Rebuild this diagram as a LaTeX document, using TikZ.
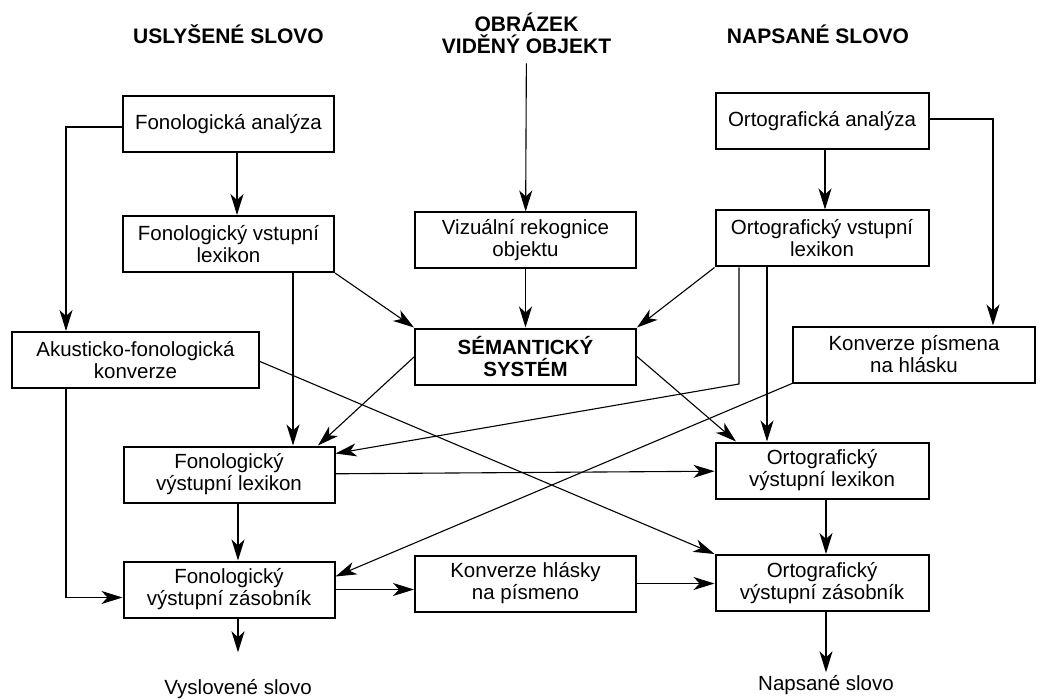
\documentclass[tikz,border=0pt]{standalone}
\usepackage{fontspec}
\setmainfont{Liberation Sans}
\usetikzlibrary{arrows.meta}
\tikzstyle{stage} = [rectangle, draw=black, line width=2pt, minimum width=211pt, minimum height=56pt, text centered, align=center, font=\fontsize{20.5pt}{22pt}\selectfont]
\tikzstyle{source} = [align=center, font=\bfseries\fontsize{21pt}{22pt}\selectfont]
\tikzstyle{output} = [font=\fontsize{20.5pt}{22pt}\selectfont]
\tikzstyle{arrow} = [line width=1.1pt, -{Stealth[length=21pt, width=13pt, inset=6pt]}]

\begin{document}
\begin{tikzpicture}
[x=1pt, y=-1pt, node distance=116pt]
\useasboundingbox (0,0) rectangle (1040,700);

% left column: heard word
\node (fonan) [stage] at (228.5,124.5) {Fonologická analýza};
\node (fonvst) [stage, below of=fonan, yshift=-3.5pt] {Fonologický vstupní\\lexikon};
\node (akust) [stage, below of=fonvst, xshift=-93pt, minimum width=247pt] {Akusticko-fonologická\\konverze};
\node (fonvyl) [stage, below of=akust, xshift=93.5pt, yshift=1.5pt] {Fonologický\\výstupní lexikon};
\node (fonvz) [stage, below of=fonvyl, yshift=1pt] {Fonologický\\výstupní zásobník};
\node (vysl) [output, below of=fonvz, xshift=9pt, yshift=16pt] {Vyslovené slovo};

% middle column: seen object
\node (vizual) [stage, right of=fonvst, xshift=181pt, yshift=3.5pt, minimum width=221pt] {Vizuální rekognice\\objektu};
\node (sem) [stage, below of=vizual, minimum width=221pt, font=\fontsize{20.5pt}{22pt}\selectfont\bfseries] {SÉMANTICKÝ\\SYSTÉM};
\node (konvhl) [stage, right of=fonvz, xshift=180.5pt, yshift=6pt, minimum width=221pt] {Konverze hlásky\\na písmeno};

% right column: written word
\node (ortan) [stage, right of=fonan, xshift=477.5pt, yshift=3.5pt, minimum width=213pt] {Ortografická analýza};
\node (ortvst) [stage, below of=ortan, yshift=-1.5pt, minimum width=213pt] {Ortografický vstupní\\lexikon};
\node (konvpis) [stage, below of=ortvst, xshift=92pt, minimum width=242pt] {Konverze písmena\\na hlásku};
\node (ortvyl) [stage, below of=konvpis, xshift=-92pt, minimum width=213pt] {Ortografický\\výstupní lexikon};
\node (ortvz) [stage, below of=ortvyl, yshift=3.5pt, minimum width=213pt] {Ortografický\\výstupní zásobník};
\node (naps) [output, below of=ortvz, xshift=4pt, yshift=13.5pt] {Napsané slovo};

% headings
\node (usl) [source, above of=fonan, yshift=-25.5pt] {USLYŠENÉ SLOVO};
\node (obr) [source, above of=vizual, xshift=1pt, yshift=91pt] {OBRÁZEK\\VIDĚNÝ OBJEKT};
\node (naptitle) [source, above of=ortan, xshift=-4pt, yshift=-29pt] {NAPSANÉ SLOVO};

\draw [arrow] ([xshift=8.5pt]fonan.south) -- ([xshift=8.5pt]fonvst.north);
\draw [arrow] ([yshift=-2.5pt]fonan.west) -| ([xshift=-69.5pt]akust.north);
\draw [arrow] ([xshift=64.5pt]fonvst.south) -- ([xshift=64pt]fonvyl.north);
\draw [arrow] (fonvst.south east) -- (sem.north west);
\draw [arrow, shorten <=6pt] (obr) -- (vizual);
\draw [arrow] (vizual) -- (sem);
\draw [arrow] ([xshift=3pt]ortan.south) -- ([xshift=3pt]ortvst.north);
\draw [arrow] ([yshift=2pt]ortan.east) -| ([xshift=79pt]konvpis.north);
\draw [arrow] (ortvst.south west) -- (sem.north east);
\draw [arrow] ([xshift=-83pt]ortvst.south) -- ++(0,116.5) -- ([yshift=21pt]fonvyl.east);
\draw [arrow] ([xshift=-55pt]ortvst.south) -- ([xshift=-55pt]ortvyl.north);
\draw [arrow] ([yshift=-0.5pt]sem.west) -- ([xshift=89pt]fonvyl.north);
\draw [arrow] (sem.east) -- ([xshift=-86pt]ortvyl.north);
\draw [arrow] ([yshift=-1.5pt]akust.east) -- (ortvz.north west);
\draw [arrow] (konvpis.south west) -- ([yshift=13pt]fonvz.east);
\draw [arrow] (fonvyl) -- (ortvyl);
\draw [arrow] ([xshift=9pt]fonvyl.south) -- ([xshift=9pt]fonvz.north);
\draw [arrow] ([xshift=-69.5pt]akust.south) |- ([yshift=-8pt]fonvz.west);
\draw [arrow] (fonvz.east) -- (fonvz.east -| konvhl.west);
\draw [arrow] (konvhl.east) -- (konvhl.east -| ortvz.west);
\draw [arrow] ([xshift=4pt]ortvyl.south) -- ([xshift=4pt]ortvz.north);
\draw [arrow] ([xshift=4pt]ortvz.south) -- (naps);
\draw [arrow, shorten >=24pt] ([xshift=9pt]fonvz.south) -- (vysl);

\end{tikzpicture}
\end{document}
